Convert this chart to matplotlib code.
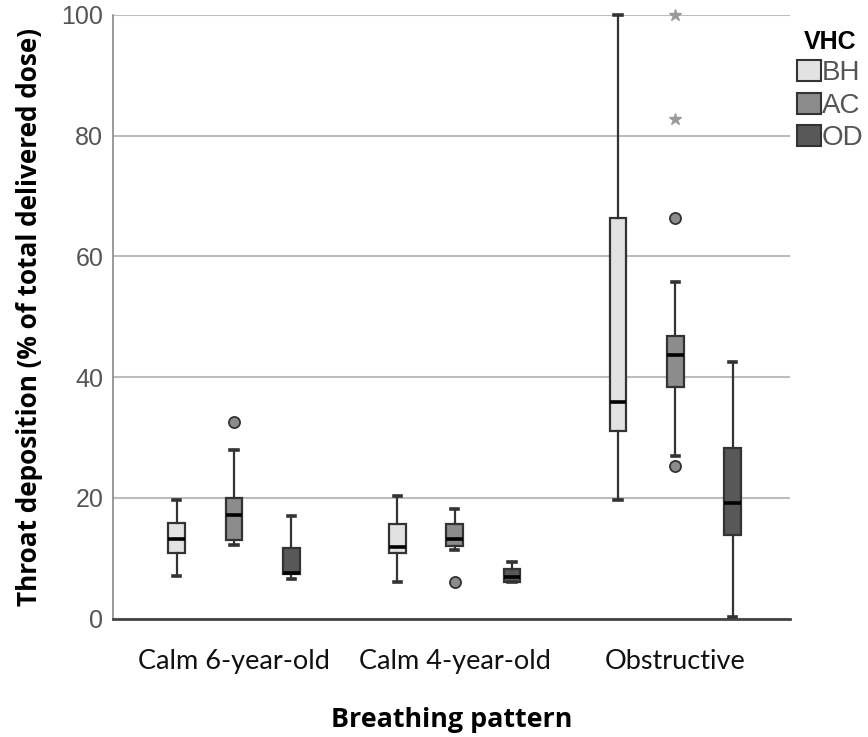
import matplotlib
matplotlib.use("Agg")
import matplotlib.pyplot as plt
from matplotlib.patches import Patch

categories = ["Calm 6-year-old", "Calm 4-year-old", "Obstructive"]
vhc_names = ["BH", "AC", "OD"]

bh_whislo = [7.1, 6.0, 19.7]
bh_q1 = [10.8, 10.8, 31.1]
bh_med = [13.2, 11.8, 35.8]
bh_q3 = [15.8, 15.7, 66.3]
bh_whishi = [19.6, 20.3, 100.0]
bh_out = [[], [], []]
bh_ext = [[], [], []]

ac_whislo = [12.2, 11.4, 27.0]
ac_q1 = [13.0, 12.0, 38.4]
ac_med = [17.2, 13.2, 43.6]
ac_q3 = [19.9, 15.7, 46.8]
ac_whishi = [27.9, 18.2, 55.7]
ac_out = [[32.6], [6.0], [66.3, 25.2]]
ac_ext = [[], [], [82.8, 100.0]]

od_whislo = [6.5, 6.0, 0.3]
od_q1 = [7.3, 6.0, 13.8]
od_med = [7.6, 6.9, 19.2]
od_q3 = [11.7, 8.2, 28.2]
od_whishi = [17.0, 9.4, 42.5]
od_out = [[], [], []]
od_ext = [[], [], []]

series = [
    (bh_whislo, bh_q1, bh_med, bh_q3, bh_whishi, bh_out, bh_ext),
    (ac_whislo, ac_q1, ac_med, ac_q3, ac_whishi, ac_out, ac_ext),
    (od_whislo, od_q1, od_med, od_q3, od_whishi, od_out, od_ext),
]
colors = ["#e2e2e2", "#8c8c8c", "#585858"]
edge = "#333333"

fig = plt.figure(figsize=(8.68, 7.37), dpi=100)
ax = fig.add_axes([113/868, 1-618.5/737, (790-113)/868, (618.5-15)/737])

offsets = [-0.26, 0.0, 0.26]
bw = 0.075
for k, (wl, q1, md, q3, wh, outs, exts) in enumerate(series):
    stats = []
    for i in range(len(categories)):
        stats.append(dict(med=md[i], q1=q1[i], q3=q3[i], whislo=wl[i], whishi=wh[i], fliers=outs[i]))
    pos = [i + offsets[k] for i in range(len(categories))]
    ax.bxp(stats, positions=pos, widths=bw, patch_artist=True, capwidths=bw*0.45,
           boxprops=dict(facecolor=colors[k], edgecolor=edge, linewidth=1.6),
           medianprops=dict(color="black", linewidth=2.6),
           whiskerprops=dict(color=edge, linewidth=1.6),
           capprops=dict(color=edge, linewidth=2.6),
           flierprops=dict(marker="o", markerfacecolor=colors[k], markeredgecolor=edge,
                           markersize=8, markeredgewidth=1.3),
           manage_ticks=False, zorder=3)
    for i in range(len(categories)):
        if exts[i]:
            ax.plot([pos[i]]*len(exts[i]), exts[i], linestyle="none", marker="*",
                    color="#9a9a9a", markersize=9, clip_on=False, zorder=3)

for art in ax.get_children():
    try:
        art.set_clip_on(False)
    except Exception:
        pass

ax.set_xlim(-0.549, 2.52)
ax.set_ylim(0, 100)
ax.set_yticks([0, 20, 40, 60, 80, 100])
ax.yaxis.grid(True, color="#bdbdbd", linewidth=1.5, zorder=0)
ax.set_axisbelow(True)
ax.set_xticks(range(len(categories)))
ax.set_xticklabels(categories, fontfamily="Lato", fontsize=19.5, color="#111111")
ax.tick_params(axis="x", length=0, pad=22)
ax.tick_params(axis="y", length=0, labelcolor="#555555", labelsize=18, pad=7)
for lab in ax.get_yticklabels():
    lab.set_fontfamily("Liberation Sans")
ax.spines["top"].set_visible(False)
ax.spines["right"].set_visible(False)
ax.spines["left"].set_color("#888888")
ax.spines["left"].set_linewidth(1.2)
ax.spines["bottom"].set_color("#444444")
ax.spines["bottom"].set_linewidth(2)

ax.set_ylabel("Throat deposition (% of total delivered dose)", fontfamily="Open Sans",
              fontweight="bold", fontsize=18.8, labelpad=13)
ax.set_xlabel("Breathing pattern", fontfamily="Open Sans", fontweight="bold", fontsize=19.4,
              labelpad=24)

handles = [Patch(facecolor=colors[k], edgecolor=edge, linewidth=1.5) for k in range(3)]
leg = ax.legend(handles, vhc_names, title="VHC", loc="upper left",
                bbox_to_anchor=(797/868, 1-30/737), bbox_transform=fig.transFigure,
                frameon=False, handlelength=0.85, handleheight=0.8, handletextpad=0.05,
                labelspacing=0.22, borderpad=0, borderaxespad=0,
                prop=dict(family="Liberation Sans", size=20),
                title_fontproperties=dict(family="Liberation Sans", weight="bold", size=18))
for t in leg.get_texts():
    t.set_color("#555555")

fig.savefig("out.png", dpi=100)
